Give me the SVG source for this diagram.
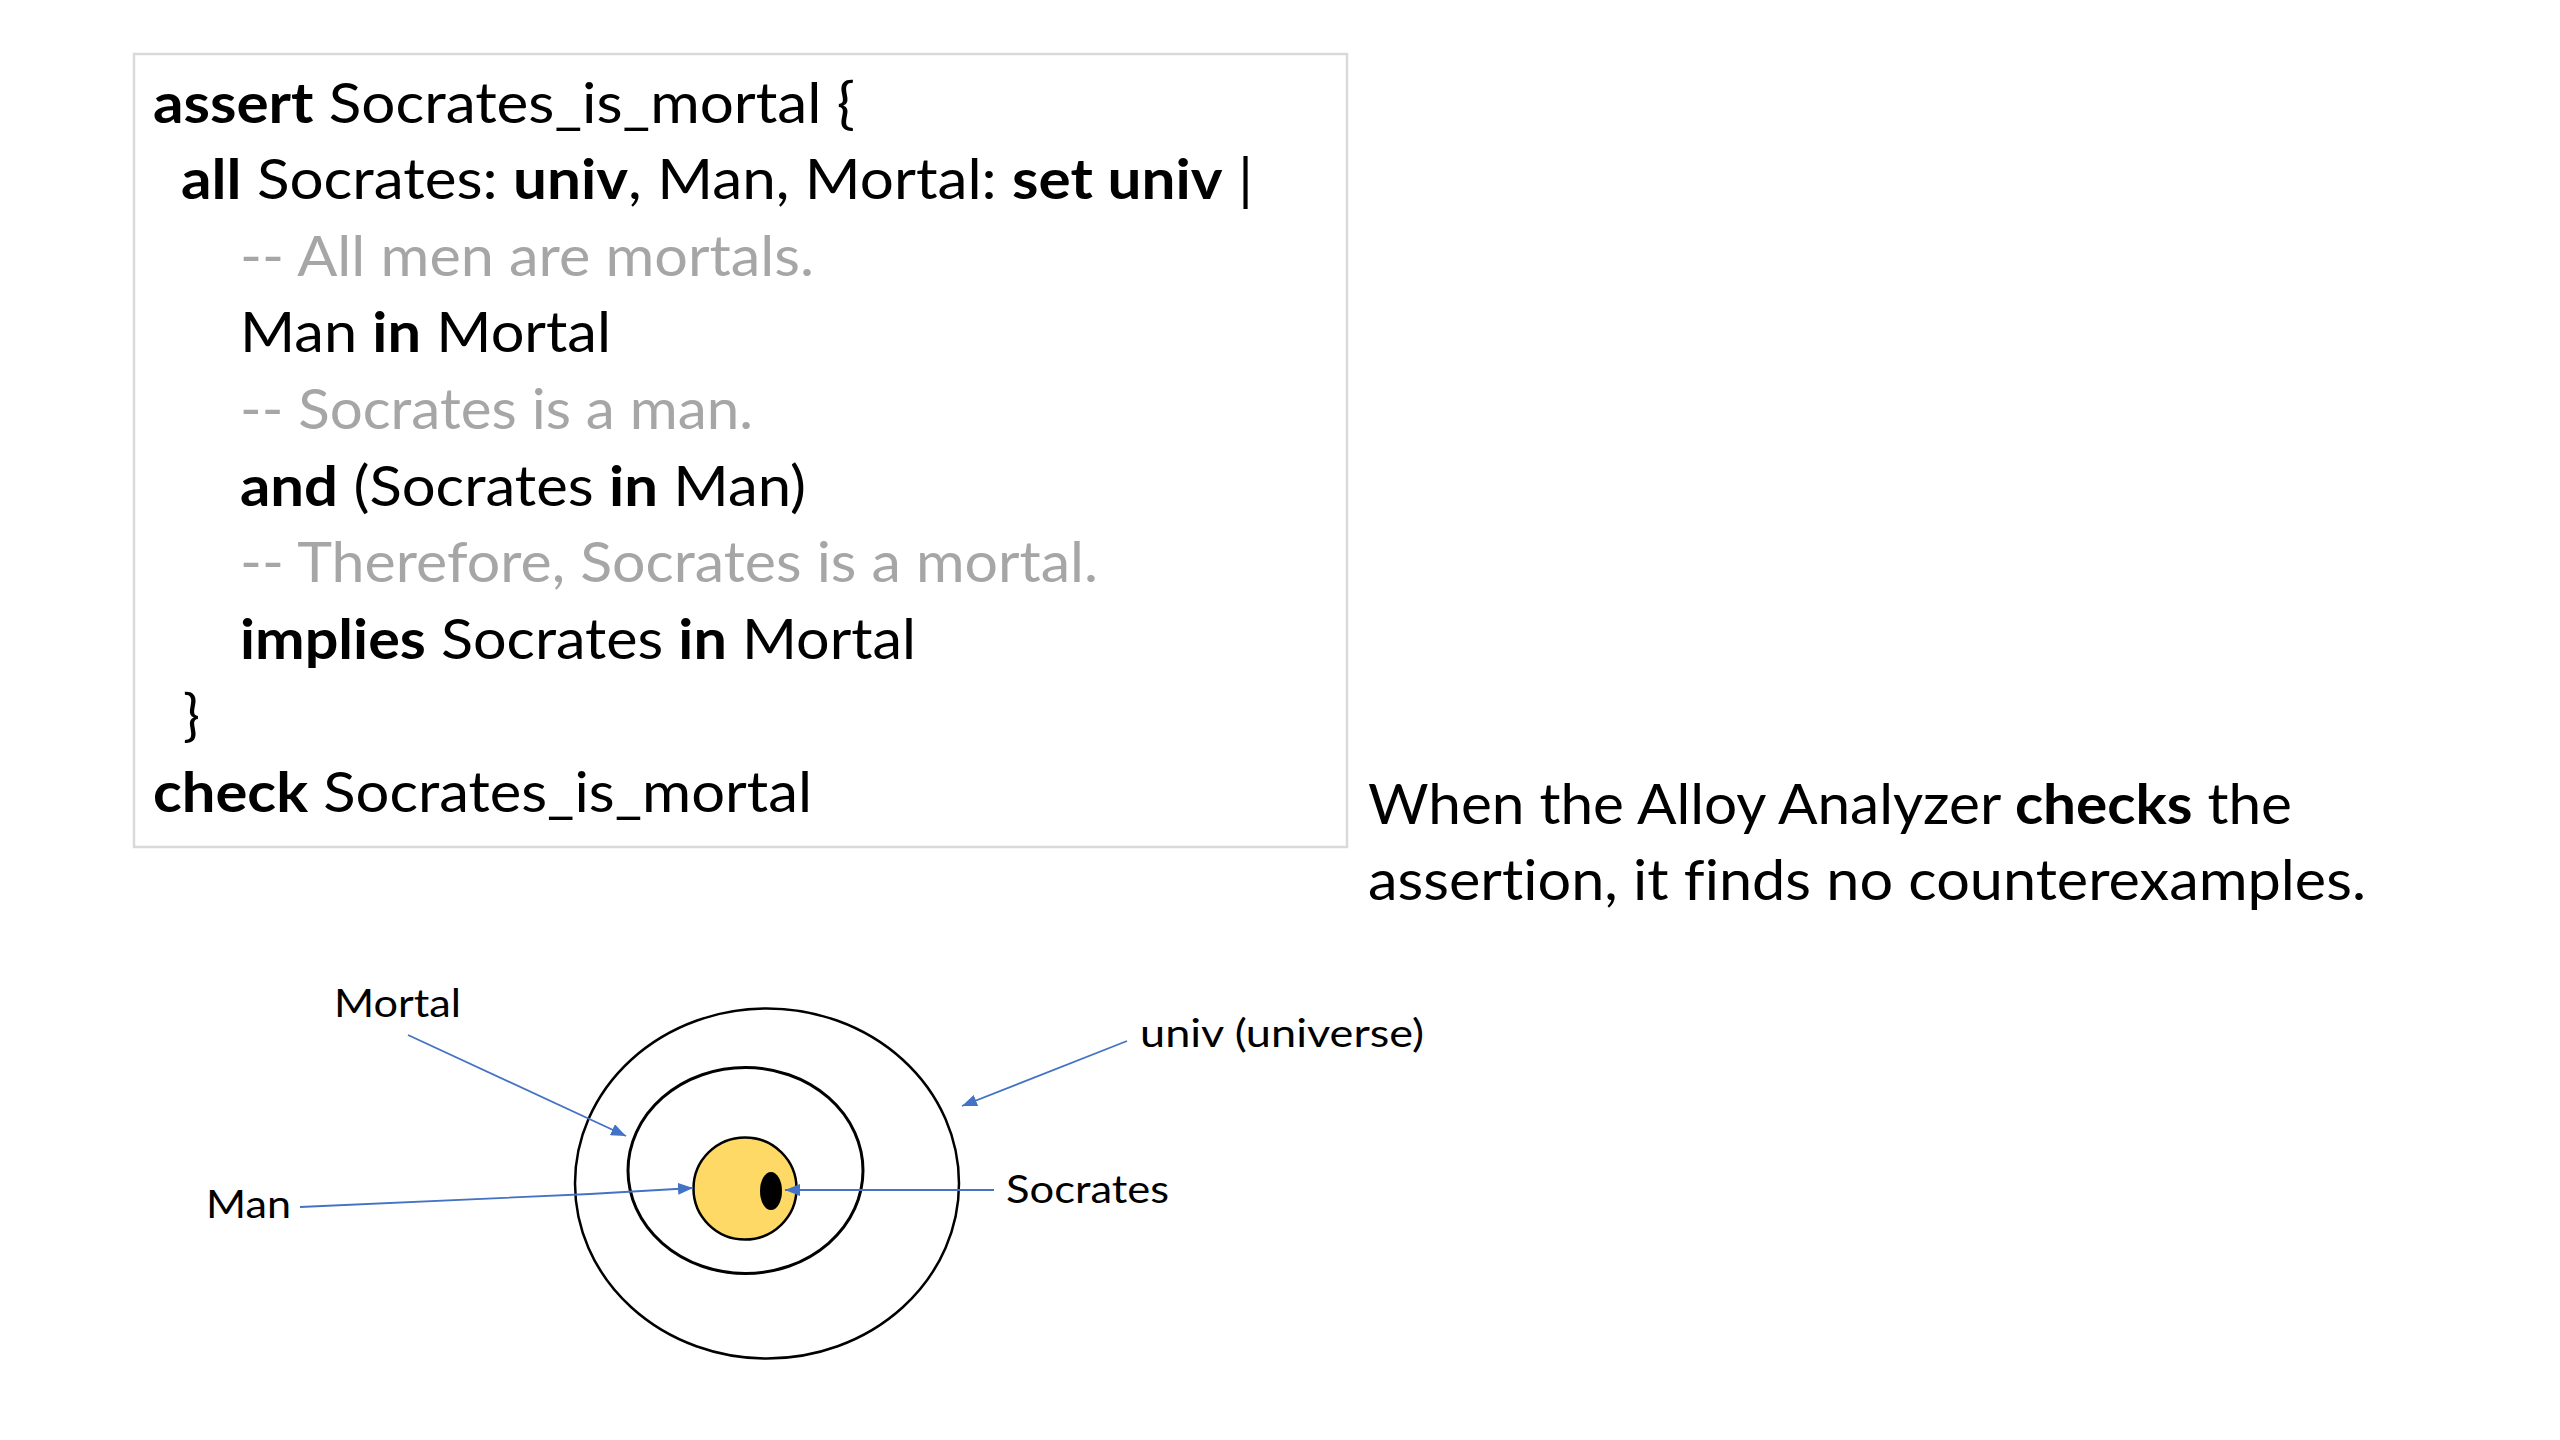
<svg xmlns="http://www.w3.org/2000/svg" width="2560" height="1440" viewBox="0 0 2560 1440">
  <style>
    text { font-family: Lato, "Open Sans", "Liberation Sans", sans-serif; fill: #000; font-variant-ligatures: none; }
    .code { font-size: 56px; }
    .cmt { fill: #a6a6a6; }
    .b { font-weight: bold; }
    .lbl { font-size: 39px; }
    .set { fill: none; stroke: #000; }
    .conn { stroke: #4472c4; stroke-width: 1.8; fill: none; marker-end: url(#arr); }
  </style>
  <defs>
    <marker id="arr" markerWidth="15" markerHeight="12" refX="15" refY="6" orient="auto" markerUnits="userSpaceOnUse">
      <path d="M0,0 L15,6 L0,12 z" fill="#4472c4"/>
    </marker>
  </defs>
  <rect width="2560" height="1440" fill="#fff"/>

  <g id="code-box">
    <rect x="134" y="54" width="1213" height="793" fill="#fff" stroke="#d9d9d9" stroke-width="2.5"/>
    <text class="code" x="153" y="123" textLength="702" lengthAdjust="spacingAndGlyphs"><tspan class="b">assert</tspan> Socrates_is_mortal {</text>
    <text class="code" x="181" y="199" textLength="1072" lengthAdjust="spacingAndGlyphs"><tspan class="b">all</tspan> Socrates: <tspan class="b">univ</tspan>, Man, Mortal: <tspan class="b">set univ</tspan> |</text>
    <text class="code cmt" x="240" y="276" textLength="574" lengthAdjust="spacingAndGlyphs">-- All men are mortals.</text>
    <text class="code" x="240" y="352" textLength="371" lengthAdjust="spacingAndGlyphs">Man <tspan class="b">in</tspan> Mortal</text>
    <text class="code cmt" x="240" y="429" textLength="513" lengthAdjust="spacingAndGlyphs">-- Socrates is a man.</text>
    <text class="code" x="240" y="506" textLength="566" lengthAdjust="spacingAndGlyphs"><tspan class="b">and</tspan> (Socrates <tspan class="b">in</tspan> Man)</text>
    <text class="code cmt" x="240" y="582" textLength="858" lengthAdjust="spacingAndGlyphs">-- Therefore, Socrates is a mortal.</text>
    <text class="code" x="240" y="659" textLength="676" lengthAdjust="spacingAndGlyphs"><tspan class="b">implies</tspan> Socrates <tspan class="b">in</tspan> Mortal</text>
    <text class="code" x="183" y="735">}</text>
    <text class="code" x="153" y="812" textLength="659" lengthAdjust="spacingAndGlyphs"><tspan class="b">check</tspan> Socrates_is_mortal</text>
  </g>

  <g id="explanation">
    <text class="code" x="1368" y="824" textLength="924" lengthAdjust="spacingAndGlyphs">When the Alloy Analyzer <tspan class="b">checks</tspan> the</text>
    <text class="code" x="1368" y="900" textLength="998" lengthAdjust="spacingAndGlyphs">assertion, it finds no counterexamples.</text>
  </g>

  <g id="univ-set">
    <ellipse class="set" cx="767" cy="1183.5" rx="192" ry="175" stroke-width="2.5"/>
  </g>
  <g id="mortal-set">
    <ellipse class="set" cx="745.5" cy="1170.5" rx="117.5" ry="103" stroke-width="3"/>
  </g>
  <g id="man-set">
    <ellipse cx="745" cy="1188.5" rx="51.5" ry="51" fill="#ffd966" stroke="#000" stroke-width="2.5"/>
  </g>
  <g id="socrates-elem">
    <ellipse cx="771" cy="1191" rx="11" ry="19" fill="#000"/>
  </g>

  <g id="label-mortal"><text class="lbl" x="334" y="1017" textLength="127" lengthAdjust="spacingAndGlyphs">Mortal</text></g>
  <g id="label-univ"><text class="lbl" x="1140" y="1047" textLength="284" lengthAdjust="spacingAndGlyphs">univ (universe)</text></g>
  <g id="label-man"><text class="lbl" x="206" y="1218" textLength="85" lengthAdjust="spacingAndGlyphs">Man</text></g>
  <g id="label-socrates"><text class="lbl" x="1006" y="1203" textLength="163" lengthAdjust="spacingAndGlyphs">Socrates</text></g>

  <g id="connectors">
    <line class="conn" x1="408" y1="1035" x2="626" y2="1136"/>
    <line class="conn" x1="1127" y1="1041" x2="962" y2="1106"/>
    <path class="conn" d="M300,1207 L590,1194 L693,1188"/>
    <line class="conn" x1="994" y1="1190" x2="785" y2="1190"/>
  </g>
</svg>
